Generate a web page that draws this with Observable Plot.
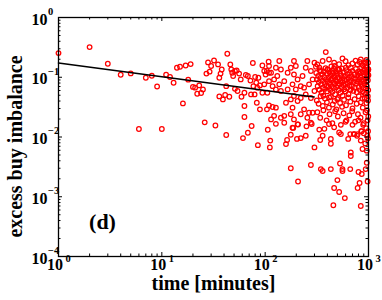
<!DOCTYPE html>
<html><head><meta charset="utf-8">
<script src="https://cdn.jsdelivr.net/npm/d3@7"></script>
<script src="https://cdn.jsdelivr.net/npm/@observablehq/plot@0.6"></script>
<style>body{margin:0;background:#fff}svg{display:block}</style>
</head><body><div id="chart"></div>
<script>
// ---- data (time in minutes, excess buy imbalance) ----
const time = [
1,2,3,4,5,6,7,8,9,10,
11,12,13,14,15,16,17,18,19,20,
21,22,23,24,25,26,27,28,29,30,
32,33,35,36,36,37,38,39,41,42,
42,43,45,46,47,48,49,51,51,53,
54,56,58,59,61,63,63,63,65,68,
68,72,73,74,76,77,79,80,82,83,
84,85,86,89,89,94,94,98,104,104,
106,108,109,109,111,112,
109,101,114,127,137,142,131,122,109,98,
118,137,153,165,177,190,198,190,206,184,
165,142,127,105,230,247,256,277,300,288,
266,238,221,198,190,177,159,184,206,221,
247,277,300,118,127,122,114,142,153,177,
190,221,238,266,256,288,127,153,184,206,277,
159,163,177,187,203,208,221,251,247,282,
300,334,341,360,374,432,432,415,465,520,
540,636,666,730,785,842,875,962,674,674,
177,208,277,346,360,432,530,560,560,666,
500,465,520,590,457,785,820,800,860,940,
962,980,842,
386,560,842,360,415,320,465,674,785,910,
990,520,603,346,400,450,842,980,600,700,
640,470,520,750,820,955,880,925,960,995,
310,335,
312,318,322,326,331,335,338,342,347,351,
355,358,362,366,370,373,377,381,384,388,
391,395,398,402,405,409,412,416,419,423,
427,430,434,437,441,445,448,452,456,460,
463,467,471,475,479,483,487,491,495,499,
503,507,512,516,520,525,529,534,538,543,
548,552,557,562,567,572,577,582,587,592,
598,604,610,616,622,628,634,641,648,655,
662,669,676,684,691,699,706,714,722,730,
738,746,754,762,770,778,786,794,802,810,
818,826,834,842,850,858,866,874,882,890,
898,906,914,922,930,938,946,954,962,970,
978,986,994,998,
316,329,344,361,379,396,414,432,451,470,
489,509,531,555,580,606,637,667,700,734,
768,805,842,880,918,955,990,
320,341,366,393,420,447,476,505,540,574,
612,652,695,742,790,838,888,935,980,
880,925,960,995,940,985,905,965,995,870,
990,975,900,850,775,720,
600,700,800,900,950,860,990,930
];
const imbalance = [
0.254,0.320,0.168,0.110,0.116,0.0136,0.098,0.106,0.070,0.0136,
0.110,0.101,0.081,0.144,0.150,0.0365,0.157,0.091,0.166,0.069,
0.067,0.053,0.073,0.0544,0.0625,0.0176,0.115,0.177,0.124,0.154,
0.191,0.0156,0.164,0.098,0.0478,0.115,0.135,0.0426,0.0504,0.071,
0.0108,0.247,0.0472,0.164,0.135,0.119,0.105,0.127,0.064,0.130,
0.0588,0.115,0.092,0.0472,0.0096,0.0551,0.033,0.0216,0.109,0.105,
0.0118,0.088,0.0516,0.0153,0.173,0.071,0.0516,0.101,0.081,0.0375,
0.067,0.0073,0.098,0.073,0.029,0.157,0.0551,0.127,0.127,0.029,
0.0132,0.182,0.119,0.0338,0.0067,0.0087,
0.154,0.111,0.119,0.144,0.187,0.135,0.105,0.092,0.086,0.076,
0.071,0.076,0.086,0.119,0.144,0.187,0.154,0.111,0.092,0.076,
0.0625,0.0588,0.0625,0.0551,0.105,0.144,0.187,0.127,0.175,0.092,
0.076,0.067,0.071,0.0625,0.0485,0.0426,0.0375,0.031,0.040,0.045,
0.0516,0.045,0.0588,0.0318,0.031,0.0226,0.0197,0.021,0.0226,0.024,
0.0197,0.024,0.029,0.0255,0.021,0.0255,0.0166,0.0173,0.0143,0.0163,0.0173,
0.0076,0.0089,0.0109,0.0142,0.0093,0.0162,0.0096,0.0151,0.0105,0.0165,
0.0067,0.0133,0.0089,0.0105,0.0137,0.0077,0.0093,0.0165,0.0145,0.0119,
0.0112,0.0093,0.0112,0.0112,0.0112,0.0087,0.0063,0.0059,0.0055,0.0048,
0.0030,0.0018,0.0034,0.0029,0.0027,0.0029,0.0036,0.0029,0.0027,0.0029,
0.0019,0.0014,0.0012,0.00095,0.00072,0.0014,0.0017,0.0026,0.0024,0.0029,
0.0037,0.0018,0.00070,
0.264,0.206,0.198,0.187,0.198,0.164,0.175,0.144,0.164,0.135,
0.175,0.135,0.144,0.127,0.135,0.127,0.119,0.111,0.185,0.170,
0.160,0.155,0.165,0.190,0.180,0.195,0.160,0.175,0.145,0.135,
0.150,0.145,
0.118,0.092,0.071,0.105,0.083,0.062,0.131,0.097,0.076,0.055,
0.112,0.088,0.067,0.049,0.124,0.101,0.081,0.064,0.142,0.093,
0.072,0.115,0.058,0.086,0.134,0.069,0.098,0.046,0.121,0.079,
0.061,0.108,0.089,0.152,0.071,0.096,0.057,0.117,0.083,0.066,
0.139,0.104,0.077,0.052,0.091,0.126,0.068,0.113,0.085,0.043,
0.099,0.072,0.132,0.061,0.094,0.078,0.118,0.055,0.087,0.107,
0.068,0.141,0.083,0.049,0.097,0.074,0.122,0.063,0.089,0.105,
0.058,0.077,0.131,0.092,0.066,0.113,0.081,0.052,0.098,0.073,
0.118,0.062,0.087,0.104,0.071,0.128,0.094,0.059,0.083,0.112,
0.067,0.096,0.138,0.078,0.056,0.107,0.085,0.124,0.069,0.093,
0.116,0.061,0.082,0.101,0.147,0.074,0.091,0.058,0.121,0.086,
0.067,0.109,0.078,0.134,0.095,0.063,0.118,0.084,0.071,0.102,
0.126,0.089,0.061,0.108,
0.041,0.036,0.048,0.033,0.044,0.038,0.031,0.047,0.035,0.040,
0.029,0.045,0.037,0.032,0.042,0.034,0.046,0.039,0.030,0.043,
0.036,0.048,0.038,0.031,0.045,0.037,0.041,
0.026,0.021,0.028,0.019,0.024,0.017,0.027,0.022,0.016,0.025,
0.019,0.023,0.027,0.018,0.024,0.021,0.016,0.026,0.019,
0.160,0.175,0.145,0.135,0.052,0.048,0.055,0.028,0.022,0.044,
0.0125,0.0105,0.0115,0.0125,0.0105,0.0112,
0.018,0.016,0.019,0.017,0.014,0.0125,0.0095,0.0078
];
// power-law fit line end points
const fitTime = [1, 298];
const fitImbalance = [0.173, 0.0467];
// tick labels
const xTickValues = [1, 10, 100, 1000];
const xTickExponents = ["0", "1", "2", "3"];
const yTickValues = [1e-4, 1e-3, 1e-2, 1e-1, 1];
const yTickExponents = ["\u22124", "\u22123", "\u22122", "\u22121", "0"];
const panelLabel = "(d)";
const xLabel = "time [minutes]";
const yLabel = "excess buy imbalance";

// ---- build ----
const points = time.map((t, i) => ({t, v: imbalance[i]}));
const fit = fitTime.map((t, i) => ({t, v: fitImbalance[i]}));
const xMinor = [];
for (let k = 0; k < 3; k++) for (let m = 2; m <= 9; m++) xMinor.push(m * 10 ** k);
const yMinor = [];
for (let k = -4; k < 0; k++) for (let m = 2; m <= 9; m++) yMinor.push(m * 10 ** k);

const W = 382, H = 300, mL = 58, mR = 14, mT = 17, mB = 44;
const pw = W - mL - mR, ph = H - mT - mB;
const major = 4, minor = 2.5;
const font = "Liberation Serif";
const tickStyle = {stroke: "black", strokeWidth: 1};

const chart = Plot.plot({
  width: W, height: H,
  marginLeft: mL, marginRight: mR, marginTop: mT, marginBottom: mB,
  style: {background: "white", fontFamily: font},
  x: {type: "log", domain: [1, 1000], axis: null},
  y: {type: "log", domain: [1e-4, 1], axis: null},
  marks: [
    Plot.dot(points, {x: "t", y: "v", r: 2.3, stroke: "#ff0000", strokeWidth: 1.25, fill: "none"}),
    Plot.line(fit, {x: "t", y: "v", stroke: "black", strokeWidth: 1.6}),
    // inward ticks on all four sides
    Plot.tickX(xTickValues, {x: d => d, insetTop: ph - major, ...tickStyle}),
    Plot.tickX(xTickValues, {x: d => d, insetBottom: ph - major, ...tickStyle}),
    Plot.tickX(xMinor, {x: d => d, insetTop: ph - minor, ...tickStyle}),
    Plot.tickX(xMinor, {x: d => d, insetBottom: ph - minor, ...tickStyle}),
    Plot.tickY(yTickValues, {y: d => d, insetRight: pw - major, ...tickStyle}),
    Plot.tickY(yTickValues, {y: d => d, insetLeft: pw - major, ...tickStyle}),
    Plot.tickY(yMinor, {y: d => d, insetRight: pw - minor, ...tickStyle}),
    Plot.tickY(yMinor, {y: d => d, insetLeft: pw - minor, ...tickStyle}),
    Plot.frame({stroke: "black", strokeWidth: 1.3}),
    // y tick labels
    Plot.text(yTickValues, {y: d => d, frameAnchor: "left", text: () => "10", textAnchor: "end",
      dx: -11, dy: 2, fontSize: 16, fontWeight: "bold", fontFamily: font, fill: "black"}),
    Plot.text(yTickValues, {y: d => d, frameAnchor: "left", text: (d, i) => yTickExponents[i], textAnchor: "start",
      dx: -10.5, dy: -6, fontSize: 10.5, fontWeight: "bold", fontFamily: font, fill: "black"}),
    // x tick labels
    Plot.text(xTickValues, {x: d => d, frameAnchor: "bottom", text: () => "10", textAnchor: "end",
      dx: 4.5, dy: 13, fontSize: 16, fontWeight: "bold", fontFamily: font, fill: "black"}),
    Plot.text(xTickValues, {x: d => d, frameAnchor: "bottom", text: (d, i) => xTickExponents[i], textAnchor: "start",
      dx: 7, dy: 5.5, fontSize: 10.5, fontWeight: "bold", fontFamily: font, fill: "black"}),
    // axis titles and panel label
    Plot.text([xLabel], {frameAnchor: "bottom", text: d => d, textAnchor: "middle", dy: 33, fontSize: 20, fontWeight: "bold", fontFamily: font, fill: "black"}),
    Plot.text([yLabel], {frameAnchor: "left", text: d => d, textAnchor: "middle", rotate: -90, dx: -43, dy: 9.5, fontSize: 20, fontWeight: "bold", fontFamily: font, fill: "black"}),
    Plot.text([panelLabel], {frameAnchor: "bottom-left", text: d => d, textAnchor: "middle", dx: 44, dy: -28, fontSize: 22, fontWeight: "bold", fontFamily: font, fill: "black"})
  ]
});
document.getElementById("chart").appendChild(chart);
</script>
</body></html>
